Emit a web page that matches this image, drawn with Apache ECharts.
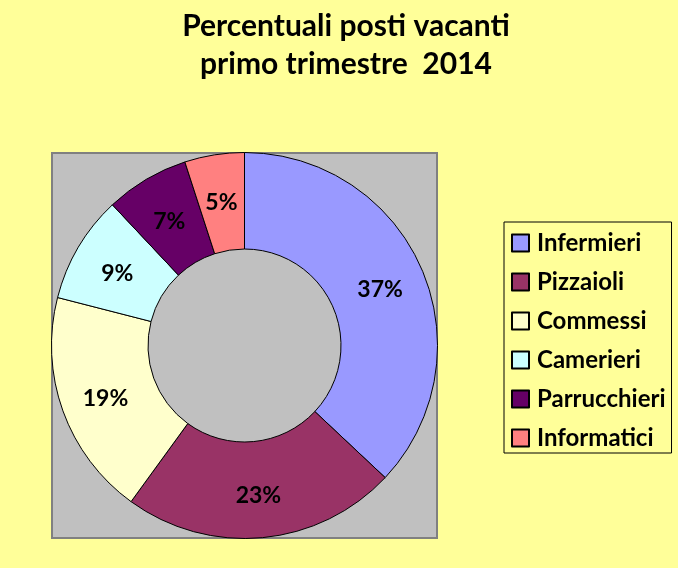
<!DOCTYPE html>
<html>
<head>
<meta charset="utf-8">
<script src="https://cdn.jsdelivr.net/npm/echarts@6/dist/echarts.min.js"></script>
<style>
html,body{margin:0;padding:0;background:#FFFF99;}
#c{width:678px;height:568px;}
</style>
</head>
<body>
<div id="c"></div>
<script>
const categories = ['Infermieri', 'Pizzaioli', 'Commessi', 'Camerieri', 'Parrucchieri', 'Informatici'];
const values = [37, 23, 19, 9, 7, 5];
const colors = ['#9999FF', '#993366', '#FFFFCC', '#CCFFFF', '#660066', '#FF8080'];
const titleLines = ['Percentuali posti vacanti', 'primo trimestre  2014'];

const chart = echarts.init(document.getElementById('c'), null, {renderer: 'canvas'});
const FONT = 'Lato';
chart.setOption({
  backgroundColor: '#FFFF99',
  animation: false,
  title: {
    text: titleLines.join('\n'),
    left: 341,
    top: 2,
    textAlign: 'center',
    textStyle: {fontFamily: FONT, fontWeight: 'bold', fontSize: 30, lineHeight: 38, color: '#000'}
  },
  graphic: [{
    type: 'rect',
    shape: {x: 52, y: 153, width: 385, height: 385},
    style: {fill: '#C0C0C0', stroke: '#808080', lineWidth: 2},
    z: -10, silent: true
  }],
  legend: {
    orient: 'vertical',
    left: 504,
    top: 222,
    padding: [9, 6, 3, 7],
    borderColor: '#000',
    borderWidth: 1,
    icon: 'rect',
    itemWidth: 17,
    itemHeight: 17,
    itemGap: 15,
    selectedMode: false,
    data: categories,
    textStyle: {fontFamily: FONT, fontWeight: 'bold', fontSize: 24, color: '#000', padding: [0, 0, 0, 3]}
  },
  series: [{
    type: 'pie',
    center: [244.5, 345.5],
    radius: [96.5, 193],
    startAngle: 90,
    clockwise: true,
    silent: true,
    data: categories.map((n, i) => ({name: n, value: values[i], itemStyle: {color: colors[i]}})),
    itemStyle: {borderColor: '#000', borderWidth: 1},
    label: {
      show: true,
      position: 'inside',
      formatter: '{c}%',
      offset: [0, 3],
      fontFamily: FONT, fontWeight: 'bold', fontSize: 23, color: '#000'
    },
    labelLine: {show: false}
  }]
});
</script>
</body>
</html>
